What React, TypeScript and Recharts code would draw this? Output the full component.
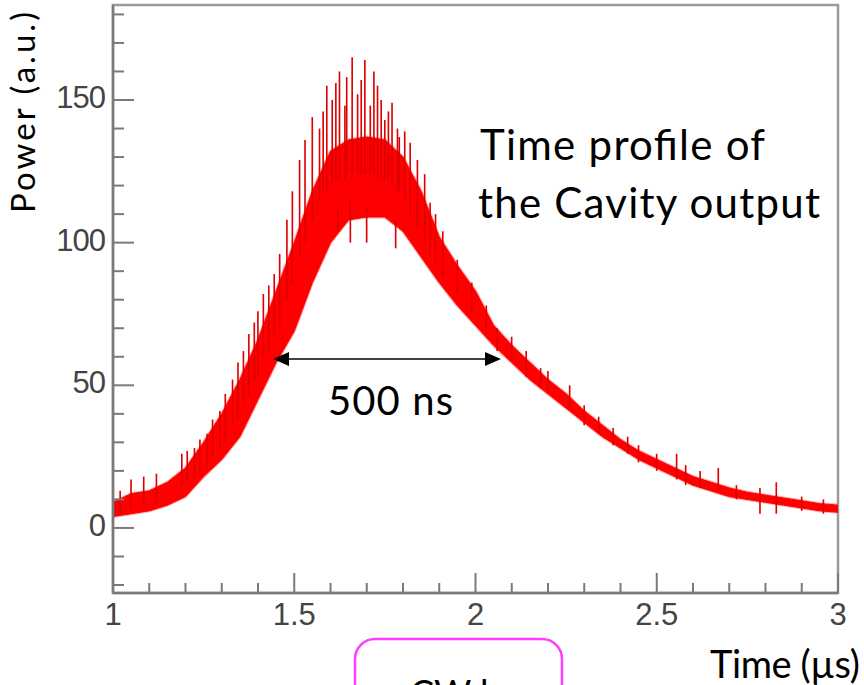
import { ComposedChart, Area, Bar, XAxis, YAxis, ReferenceArea } from 'recharts';

// time (µs) / power (a.u.)
const BAND_T = [1.0, 1.05, 1.1, 1.15, 1.2, 1.25, 1.3, 1.35, 1.4, 1.45, 1.5, 1.55, 1.6, 1.65, 1.7, 1.75, 1.8, 1.85, 1.9, 1.95, 2.0, 2.05, 2.1, 2.15, 2.2, 2.25, 2.3, 2.35, 2.4, 2.45, 2.5, 2.55, 2.6, 2.65, 2.7, 2.75, 2.8, 2.85, 2.9, 2.95, 3.0];
const BAND_LO = [4, 5, 6, 8, 11, 18, 24, 32, 45, 58, 69, 86, 100, 108, 109, 109, 104, 95, 86, 78, 71, 64, 58, 52, 47, 42, 37, 32, 28, 24, 21, 18, 15, 13, 11, 10, 9, 8, 7, 6, 5.5];
const BAND_HI = [9, 12, 13, 16, 21, 30, 40, 52, 66, 83, 100, 118, 132, 136, 137, 136, 130, 118, 102, 92, 83, 71, 64, 58, 52, 47, 41, 36, 31, 27, 24, 21, 18, 16, 14, 12.5, 11.5, 10.5, 9.5, 8.5, 8];

// sharp spikes on and around the envelope
const SPIKE_T = [1.02, 1.05, 1.085, 1.12, 1.19, 1.205, 1.225, 1.24, 1.26, 1.275, 1.295, 1.31, 1.33, 1.345, 1.36, 1.375, 1.39, 1.4, 1.415, 1.43, 1.445, 1.46, 1.48, 1.495, 1.515, 1.53, 1.55, 1.57, 1.58, 1.59, 1.605, 1.615, 1.62, 1.625, 1.64, 1.645, 1.655, 1.66, 1.675, 1.685, 1.695, 1.7, 1.71, 1.72, 1.73, 1.74, 1.75, 1.76, 1.77, 1.78, 1.785, 1.79, 1.805, 1.82, 1.84, 1.86, 1.875, 1.89, 1.91, 1.95, 1.99, 2.03, 2.06, 2.1, 2.14, 2.18, 2.2, 2.26, 2.3, 2.34, 2.38, 2.42, 2.45, 2.5, 2.555, 2.58, 2.62, 2.67, 2.72, 2.785, 2.83, 2.9, 2.96];
const SPIKE_LO = [5, 7, 8, 9, 15, 16, 18, 20, 22, 25, 28, 30, 36, 38, 44, 46, 52, 54, 60, 62, 68, 70, 80, 85, 95, 100, 108, 115, 118, 118, 120, 122, 104, 122, 122, 124, 100, 124, 124, 124, 124, 100, 124, 124, 122, 122, 122, 122, 120, 98, 118, 118, 115, 110, 105, 100, 96, 92, 88, 82, 76, 68, 62, 59, 53, 49, 48, 42, 36, 33, 29, 26, 23, 20, 17, 15, 14, 13, 10, 5, 5, 6, 5];
const SPIKE_HI = [13, 17, 18, 19, 26, 27, 28, 31, 33, 38, 41, 47, 52, 58, 62, 68, 72, 76, 82, 85, 89, 96, 108, 118, 129, 136, 144, 140, 146, 155, 150, 156, 112, 160, 148, 158, 115, 165, 152, 157, 164, 112, 148, 160, 155, 150, 143, 146, 149, 108, 140, 137, 139, 135, 129, 124, 114, 110, 104, 94, 86, 78, 70, 67, 62, 56, 55, 50, 43, 39, 35, 32, 29, 26, 26, 22, 20, 21, 15, 14, 16, 11, 10];

const X_TICKS = [1, 1.1, 1.2, 1.3, 1.4, 1.5, 1.6, 1.7, 1.8, 1.9, 2, 2.1, 2.2, 2.3, 2.4, 2.5, 2.6, 2.7, 2.8, 2.9, 3];
const Y_TICKS = [-20, -10, 0, 10, 20, 30, 40, 50, 60, 70, 80, 90, 100, 110, 120, 130, 140, 150, 160, 170, 180];
const Y_DOMAIN = [-22.8, 183.3];

const bandRows = BAND_T.map((t, i) => ({ t, band: [BAND_LO[i], BAND_HI[i]] }));
const spikeRows = SPIKE_T.map((t, i) => ({ t, spike: [SPIKE_LO[i], SPIKE_HI[i]] }));

const TICK_FONT = "'Liberation Sans', Arial, sans-serif";
const NOTE_FONT = "Lato, 'Open Sans', sans-serif";

const renderXTick = (props: any) => {
  const { x, y, payload } = props;
  const v = payload.value;
  const major = Math.abs(v * 2 - Math.round(v * 2)) < 1e-6;
  return (
    <g key={`xt-${v}`}>
      <line x1={x} x2={x} y1={y} y2={y - (major ? 20 : 10)} stroke="#7a7a7a" strokeWidth={2} />
      {major && (
        <text x={x} y={y + 32} textAnchor="middle" fontSize={31} fill="#444" fontFamily={TICK_FONT}>
          {String(v)}
        </text>
      )}
    </g>
  );
};

const renderYTick = (props: any) => {
  const { x, y, payload } = props;
  const v = payload.value;
  const major = v % 50 === 0;
  return (
    <g key={`yt-${v}`}>
      <line x1={x} x2={x + (major ? 21 : 11)} y1={y} y2={y} stroke="#7a7a7a" strokeWidth={2} />
      {major && (
        <text x={x - 8} y={y + 8} textAnchor="end" fontSize={31} fill="#444" fontFamily={TICK_FONT} letterSpacing={-1}>
          {String(v)}
        </text>
      )}
    </g>
  );
};

export default function App() {
  return (
    <div style={{ position: 'absolute', left: 0, top: 0, width: 864, height: 685, background: '#fff', overflow: 'hidden' }}>
      <ComposedChart width={864} height={685} data={spikeRows} margin={{ top: 5, right: 26, bottom: 0, left: 0 }}>
        <XAxis xAxisId="t" dataKey="t" type="number" domain={[1, 3]} ticks={X_TICKS} interval={0}
          allowDataOverflow height={92} tickSize={0} tickMargin={0} tick={renderXTick}
          axisLine={{ stroke: '#7a7a7a', strokeWidth: 2.5 }} tickLine={false} />
        <YAxis yAxisId="p" type="number" domain={Y_DOMAIN} ticks={Y_TICKS} interval={0}
          allowDataOverflow width={113} tickSize={0} tickMargin={0} tick={renderYTick}
          axisLine={{ stroke: '#7a7a7a', strokeWidth: 2.5 }} tickLine={false} />
        <ReferenceArea xAxisId="t" yAxisId="p" x1={1} x2={3} y1={Y_DOMAIN[0]} y2={Y_DOMAIN[1]}
          fill="none" stroke="#9a9a9a" strokeWidth={2.5} />
        {/* soft pink halo round the trace */}
        <Area xAxisId="t" yAxisId="p" data={bandRows} dataKey="band" type="linear"
          stroke="#ff8a8a" strokeWidth={3} fill="#ff8080" fillOpacity={0.7} strokeOpacity={0.7}
          isAnimationActive={false} />
        <Area xAxisId="t" yAxisId="p" data={bandRows} dataKey="band" type="linear"
          stroke="#ff0000" strokeWidth={1} fill="#ff0000" fillOpacity={1}
          isAnimationActive={false} />
        <Bar xAxisId="t" yAxisId="p" dataKey="spike" barSize={2} fill="#dd0000" isAnimationActive={false} />
      </ComposedChart>
      <svg width={864} height={685} style={{ position: 'absolute', left: 0, top: 0, pointerEvents: 'none' }}>
        <text transform="translate(35,213) rotate(-90)" fontSize={33} fontFamily={NOTE_FONT} fill="#000" textLength={201}>
          Power (a.u.)
        </text>
        <text x={710} y={678} fontSize={38} fontFamily={NOTE_FONT} fill="#000" textLength={150}>Time (µs)</text>
        <text x={480} y={160} fontSize={42} fontFamily={NOTE_FONT} fill="#000" textLength={285}>Time profile of</text>
        <text x={478} y={218} fontSize={42} fontFamily={NOTE_FONT} fill="#000" textLength={342}>the Cavity output</text>
        <text x={328} y={415} fontSize={40} fontFamily={NOTE_FONT} fill="#000" textLength={125}>500 ns</text>
        <line x1={285} x2={489} y1={359} y2={359} stroke="#000" strokeWidth={1.6} />
        <polygon points="273,359 289,352 289,366" fill="#000" />
        <polygon points="501,359 485,352 485,366" fill="#000" />
        <rect x={355} y={639} width={207} height={80} rx={20} fill="none" stroke="#ff3cff" strokeWidth={2.5} />
        <text x={410} y={706} fontSize={36} fontFamily={NOTE_FONT} fill="#000">CW laser</text>
      </svg>
    </div>
  );
}
